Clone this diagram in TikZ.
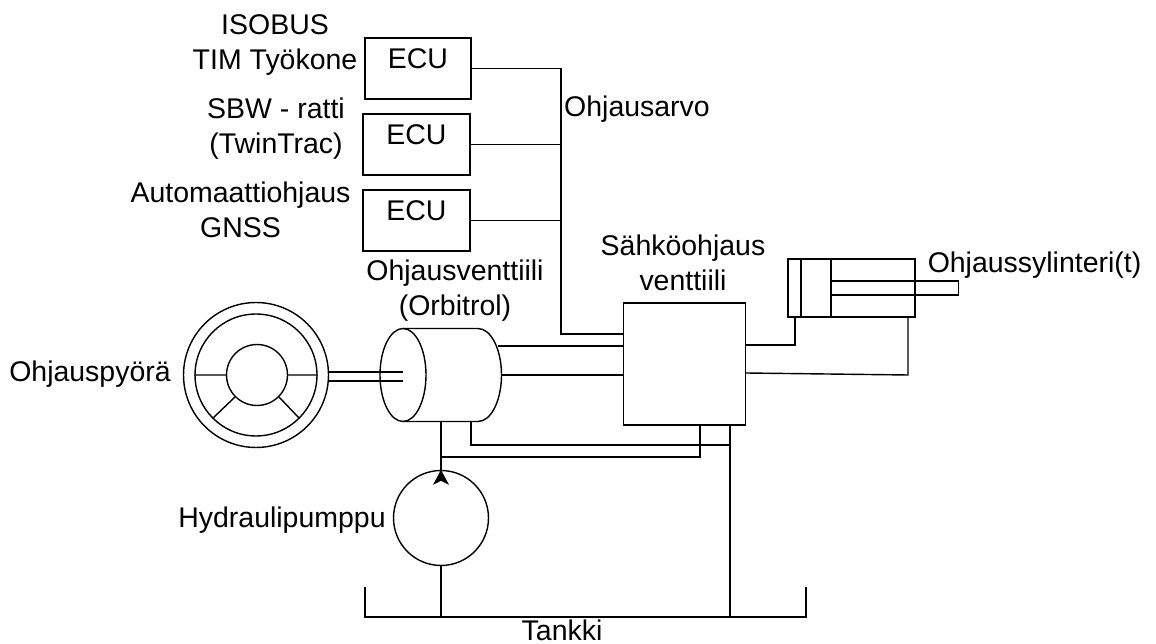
\documentclass[tikz,border=0pt]{standalone}
\usepackage{fontspec}
\setmainfont{Liberation Sans}
\begin{document}
\begin{tikzpicture}[x=0.02cm,y=-0.02cm,line width=0.8pt,
boxstyle/.style={rectangle,draw,inner sep=0},
ringstyle/.style={circle,draw,inner sep=0},
textstyle/.style={align=center,inner sep=0,font=\fontsize{16.2}{20}\selectfont}]
\useasboundingbox (0,0) rectangle (1156,644);
% ecu boxes
\foreach \n/\x/\y/\w/\ty in {1/418/68.5/106/59,2/416.5/144.5/107/135,3/416.5/220.5/107/211}
{\node[boxstyle,minimum width=\w*0.02cm,minimum height=1.22cm](ecu\n) at (\x,\y){};
\node[textstyle](ecutext\n) at (\x,\ty){ECU};
}
\node[textstyle](isobus) at (275,45){ISOBUS\\TIM Työkone};
\node[textstyle](sbw) at (276,129){SBW - ratti\\(TwinTrac)};
\node[textstyle](gnss) at (240.5,210){Automaattiohjaus\\GNSS};
\node[textstyle](ohjausarvo) at (637,109){Ohjausarvo};
\node[textstyle](orbitext) at (455,291){Ohjausventtiili\\(Orbitrol)};
\node[textstyle](valvetext) at (683,263){Sähköohjaus\\venttiili};
\node[textstyle](cyltext) at (1034.5,265){Ohjaussylinteri(t)};
\node[textstyle](wheeltext) at (90,374){Ohjauspyörä};
\node[textstyle](pumptext) at (282,520){Hydraulipumppu};
\node[textstyle](tank) at (562,630){Tankki};
% steering wheel
\node[ringstyle,minimum size=2.9cm](wheel) at (256,375){};
\node[ringstyle,minimum size=2.44cm](rim) at (256,375){};
\node[ringstyle,minimum size=1.22cm](hub) at (257,375){};
\draw (rim.west)--(hub.west) (hub.east)--(rim.east)
(hub.225)--(rim.225) (hub.315)--(rim.315);
% orbitrol
\coordinate (orbi) at (403,375);
\coordinate (shaft1) at (403,372);
\coordinate (shaft2) at (403,381);
\draw (orbi) ellipse [x radius=23,y radius=46.5];
\draw (403,328.5)--(478,328.5) arc [start angle=-90,end angle=90,x radius=23.5,y radius=46.5]--(403,421.5);
\draw (wheel.east |- shaft1)--(shaft1) (wheel.east |- shaft2)--(shaft2);
% valve
\node[boxstyle,minimum width=2.43cm,minimum height=2.44cm](valve) at (684.5,364){};
\coordinate (bus) at (561,334);
\draw (ecu1.east)-|(bus)--(valve.west |- bus);
\draw (ecu2.east)--(ecu2.east -| bus) (ecu3.east)--(ecu3.east -| bus);
\coordinate (orbi1) at (498,346);
\coordinate (orbi2) at (501.5,375);
\draw (orbi1)--(valve.west |- orbi1) (orbi2)--(valve.west |- orbi2);
% cylinder
\node[boxstyle,minimum width=2.54cm,minimum height=1.16cm](cyl) at (851.5,288){};
\node[boxstyle,minimum width=2.54cm,minimum height=0.28cm,anchor=west](rod) at (831,288){};
\draw (801,259)--(801,317) (831,259)--(831,317);
\coordinate (port1) at (795,317);
\coordinate (port2) at (908,317);
\draw (valve.east |- 0,345)-|(port1);
\draw (valve.east |- 0,373)--(908,375)--(port2);
% pump
\node[ringstyle,minimum size=1.9cm](pump) at (441,518){};
\fill (pump.north)--++(8,15)--++(-8,-4)--++(-8,4)--cycle;
\coordinate (orbibot) at (441,421.5);
\coordinate (orbiret) at (471,421.5);
\coordinate (tee) at (441,457);
\coordinate (valveP) at (700,425);
\coordinate (valveT) at (730,425);
\coordinate (tankP) at (441,617);
\coordinate (tankT) at (730,617);
\draw (orbibot)--(pump.north) (pump.south)--(tankP);
\draw (tee)-|(valveP);
\draw (orbiret)|-(730,445);
\draw (valveT)--(tankT);
% tank
\draw (365,587)--(365,617)--(806,617)--(806,587);
\end{tikzpicture}
\end{document}
